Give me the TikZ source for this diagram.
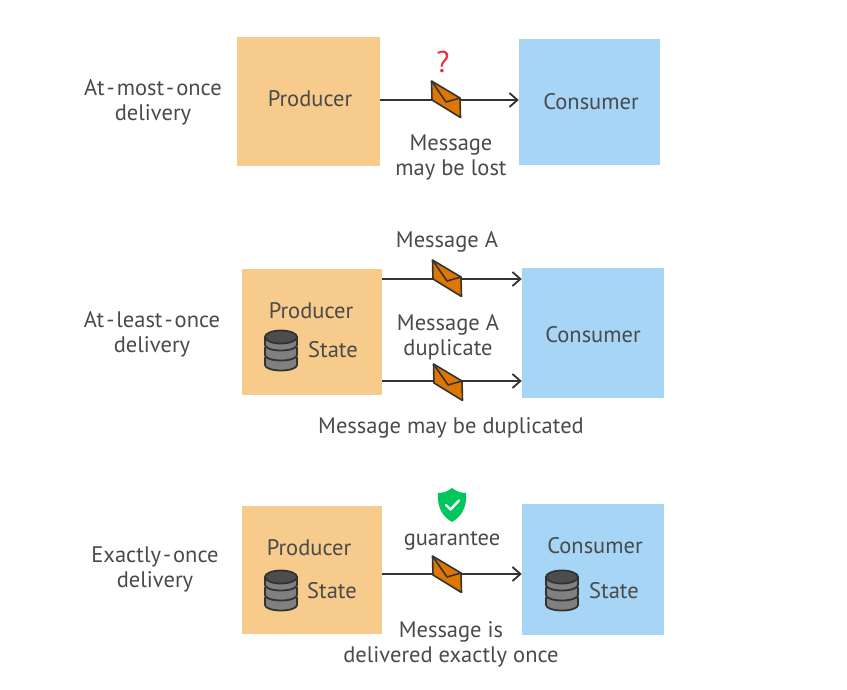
\documentclass[tikz,border=0pt]{standalone}
\usepackage{fontspec}
\setmainfont{PT Sans}
\usetikzlibrary{positioning,calc,arrows.meta}
\definecolor{boxorange}{HTML}{F6CB8C}
\definecolor{boxblue}{HTML}{A6D5F5}
\definecolor{mailorange}{HTML}{DF7600}
\definecolor{inkgray}{HTML}{333333}
\definecolor{textgray}{HTML}{4A4A4A}
\definecolor{shieldgreen}{HTML}{00C65E}
\definecolor{discdark}{HTML}{4D4D4D}
\definecolor{discgray}{HTML}{808080}
\definecolor{questred}{HTML}{EE2B3B}
\newcommand{\hy}{\kern2pt-\kern2pt}

\tikzset{
  envelope/.pic={
    \draw[draw=inkgray, line width=1.6pt, fill=mailorange, line join=round]
      (-14.5,-18) -- (14,-1) -- (14.5,18.5) -- (-14,1) -- cycle;
    \draw[draw=inkgray, line width=1.6pt, line join=round] (-14.5,-18) -- (0,3) -- (14,-1);
  },
  database/.pic={
    \foreach \discy in {12,2,-8} {
      \draw[draw=inkgray, line width=1.8pt, fill=discgray]
        (-16,\discy-4) -- (-16,\discy+3) arc[start angle=180, end angle=0, x radius=16, y radius=5.5]
        -- (16,\discy-4) arc[start angle=360, end angle=180, x radius=16, y radius=5.5] -- cycle;
    }
    \draw[draw=inkgray, line width=1.8pt, fill=discdark] (0,-13) ellipse[x radius=16, y radius=6.5];
  },
  shieldmark/.pic={
    \fill[shieldgreen] (0,-17) .. controls (5,-13) and (10,-12) .. (14,-12)
      .. controls (15,2) and (10,11) .. (0,17)
      .. controls (-10,11) and (-15,2) .. (-14,-12)
      .. controls (-10,-12) and (-5,-13) .. cycle;
    \draw[white, line width=2.4pt, line cap=round, line join=round] (-6,0) -- (-1.5,4.5) -- (7,-4.5);
  }
}

\begin{document}
\begin{tikzpicture}
[x=1pt, y=-1pt,
prodbox/.style={rectangle, fill=boxorange, inner sep=0pt},
consbox/.style={rectangle, fill=boxblue, inner sep=0pt},
caption/.style={text=textgray, font=\fontsize{22.5}{25}\selectfont, align=center, inner sep=0pt},
flow/.style={draw=inkgray, line width=1.8pt, -{Straight Barb[length=8pt,width=14pt]}}
]
\useasboundingbox (0,0) rectangle (847,690);

% at-most-once
\node[prodbox, minimum width=143pt, minimum height=129pt] (producer1) at (308.5,101.5) {};
\node[consbox, minimum width=141pt, minimum height=126pt] (consumer1) at (589.5,102) {};
\node[caption] (title1) at (153,102) {At\hy most\hy once\\delivery};
\node[caption] (prodtext1) at (310,99) {Producer};
\node[caption] (constext1) at (591,102) {Consumer};
\node[caption, text=questred, font=\fontsize{30}{32}\selectfont] (quest1) at (443,62) {?};
\node[caption] (lost1) at (451,157) {Message\\may be lost};
\coordinate (from1) at (producer1.east |- 0,100);
\coordinate (to1) at (consumer1.west |- 0,100);
\draw[flow] (from1) -- (to1);
\pic at (446,99) {envelope};

% at-least-once
\node[prodbox, minimum width=140pt, minimum height=126pt] (producer2) at (312,332) {};
\node[consbox, minimum width=142pt, minimum height=130pt] (consumer2) at (593,333) {};
\node[caption] (title2) at (152,334.5) {At\hy least\hy once\\delivery};
\node[caption] (prodtext2) at (311,311) {Producer};
\node[caption] (statetext2) at (333,350) {State};
\node[caption] (constext2) at (593,335) {Consumer};
\node[caption] (msga) at (447,242) {Message A};
\node[caption] (msgdup) at (448,337) {Message A\\duplicate};
\node[caption] (dupnote) at (451,428) {Message may be duplicated};
\coordinate (from2a) at (producer2.east |- 0,279);
\coordinate (to2a) at (consumer2.west |- 0,279);
\coordinate (from2b) at (producer2.east |- 0,381);
\coordinate (to2b) at (consumer2.west |- 0,381);
\draw[flow] (from2a) -- (to2a);
\draw[flow] (from2b) -- (to2b);
\pic at (447,278) {envelope};
\pic at (448,382) {envelope};
\pic at (281,350) {database};

% exactly-once
\node[prodbox, minimum width=140pt, minimum height=128pt] (producer3) at (312,570) {};
\node[consbox, minimum width=142pt, minimum height=131pt] (consumer3) at (593,569.5) {};
\node[caption] (title3) at (155,569.5) {Exactly\hy once\\delivery};
\node[caption] (prodtext3) at (309,548) {Producer};
\node[caption] (statetext3) at (332,591) {State};
\node[caption] (constext3) at (595,546) {Consumer};
\node[caption] (statetext4) at (614,591) {State};
\node[caption] (guar) at (452,541) {guarantee};
\node[caption] (once) at (451,644) {Message is\\delivered exactly once};
\coordinate (from3) at (producer3.east |- 0,574);
\coordinate (to3) at (consumer3.west |- 0,574);
\draw[flow] (from3) -- (to3);
\pic at (447,574) {envelope};
\pic at (281,590) {database};
\pic at (562,590) {database};
\pic at (452,505) {shieldmark};
\end{tikzpicture}
\end{document}
